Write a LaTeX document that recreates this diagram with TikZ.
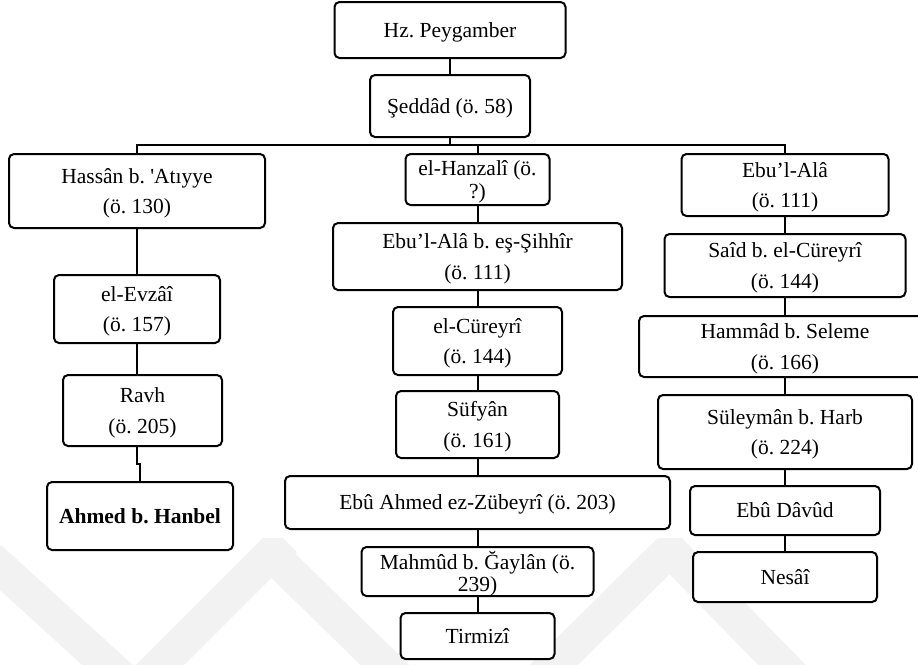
\documentclass[tikz,border=0pt]{standalone}
\usepackage{fontspec}
\setmainfont{Liberation Serif}[Ligatures=TeXOff]
\begin{document}
\frenchspacing
\begin{tikzpicture}[x=1pt,y=-1pt,
  box/.style={draw, fill=white, line width=2pt, rounded corners=5pt, align=center,
              inner sep=0pt, text depth=0pt, font=\fontsize{21.5}{30.5}\selectfont},
  tight/.style={font=\fontsize{21.5}{22.5}\selectfont},
  link/.style={line width=2pt},
  band/.style={draw=black!5, line width=34pt, line join=miter}]

\useasboundingbox (0,0) rectangle (918,664);
\clip (0,0) rectangle (918,664);
\fill[white] (0,0) rectangle (918,664);

% faint chevron bands behind the chart
\begin{scope}
  \clip (0,538) rectangle (918,664);
  \draw[band] (-10,558) -- (135,690) -- (285,540);
  \draw[band] (262,545) -- (470,748) -- (680,540);
  \draw[band] (660,540) -- (860,745);
\end{scope}

% top of the chain
\node[box, minimum width=231pt, minimum height=56pt] (hz)  at (450,30)  {Hz. Peygamber};
\node[box, minimum width=160pt, minimum height=62pt] (sed) at (450,106) {Şeddâd (ö. 58)};
\coordinate (bus) at (450,145);

% left branch
\node[box, minimum width=256pt, minimum height=74pt] (has)  at (137,191)   {Hassân b. 'Atıyye\\(ö. 130)};
\node[box, minimum width=166pt, minimum height=68pt] (evz)  at (137,309)   {el-Evzâî\\(ö. 157)};
\node[box, minimum width=159pt, minimum height=71pt] (ravh) at (142.5,410.5) {Ravh\\(ö. 205)};
\node[box, minimum width=186pt, minimum height=68pt] (ahm)  at (140,516)   {\bfseries Ahmed b. Hanbel};

% middle branch
\node[box, tight, minimum width=144pt, minimum height=51pt] (han) at (477.5,179.5) {el-Hanzalî (ö.\\?)};
\node[box, minimum width=289pt, minimum height=67pt] (ebs) at (477.5,256.5) {Ebu’l-Alâ b. eş-Şihhîr\\(ö. 111)};
\node[box, minimum width=169pt, minimum height=68pt] (cur) at (477.5,341)   {el-Cüreyrî\\(ö. 144)};
\node[box, minimum width=163pt, minimum height=67pt] (suf) at (477.5,424.5) {Süfyân\\(ö. 161)};
\node[box, minimum width=385pt, minimum height=53pt] (eba) at (477.5,502.5) {Ebû Ahmed ez-Zübeyrî (ö. 203)};
\node[box, tight, minimum width=232pt, minimum height=49pt] (mah) at (477.5,571.5) {Mahmûd b. Ğaylân (ö.\\239)};
\node[box, minimum width=154pt, minimum height=46pt] (tir) at (477.5,636)   {Tirmizî};

% right branch
\node[box, minimum width=207pt, minimum height=62pt] (ebu) at (785,185)   {Ebu’l-Alâ\\(ö. 111)};
\node[box, minimum width=241pt, minimum height=63pt] (sai) at (785,265.5) {Saîd b. el-Cüreyrî\\(ö. 144)};
\node[box, minimum width=292pt, minimum height=61pt] (ham) at (785,346.5) {Hammâd b. Seleme\\(ö. 166)};
\node[box, minimum width=254pt, minimum height=74pt] (sul) at (785,432)   {Süleymân b. Harb\\(ö. 224)};
\node[box, minimum width=190pt, minimum height=49pt] (dav) at (785,510.5) {Ebû Dâvûd};
\node[box, minimum width=184pt, minimum height=50pt] (nes) at (785,577)   {Nesâî};

% connectors
\draw[link] (hz.south) -- (sed.north);
\draw[link] (sed.south) -- (bus);
\draw[link] (has.north) -- (has.north |- bus) -- (ebu.north |- bus) -- (ebu.north);
\draw[link] (han.north |- bus) -- (han.north);

\draw[link] (has.south) -- (evz.north);
\draw[link] (evz.south) -- (evz.south |- ravh.north);
\draw[link] (evz.south |- ravh.south) -- ++(0,17) -| (ahm.north);

\draw[link] (han.south) -- (ebs.north);
\draw[link] (ebs.south) -- (cur.north);
\draw[link] (cur.south) -- (suf.north);
\draw[link] (suf.south) -- (eba.north);
\draw[link] (eba.south) -- (mah.north);
\draw[link] (mah.south) -- (tir.north);

\draw[link] (ebu.south) -- (sai.north);
\draw[link] (sai.south) -- (ham.north);
\draw[link] (ham.south) -- (sul.north);
\draw[link] (sul.south) -- (dav.north);
\draw[link] (dav.south) -- (nes.north);
\end{tikzpicture}
\end{document}
